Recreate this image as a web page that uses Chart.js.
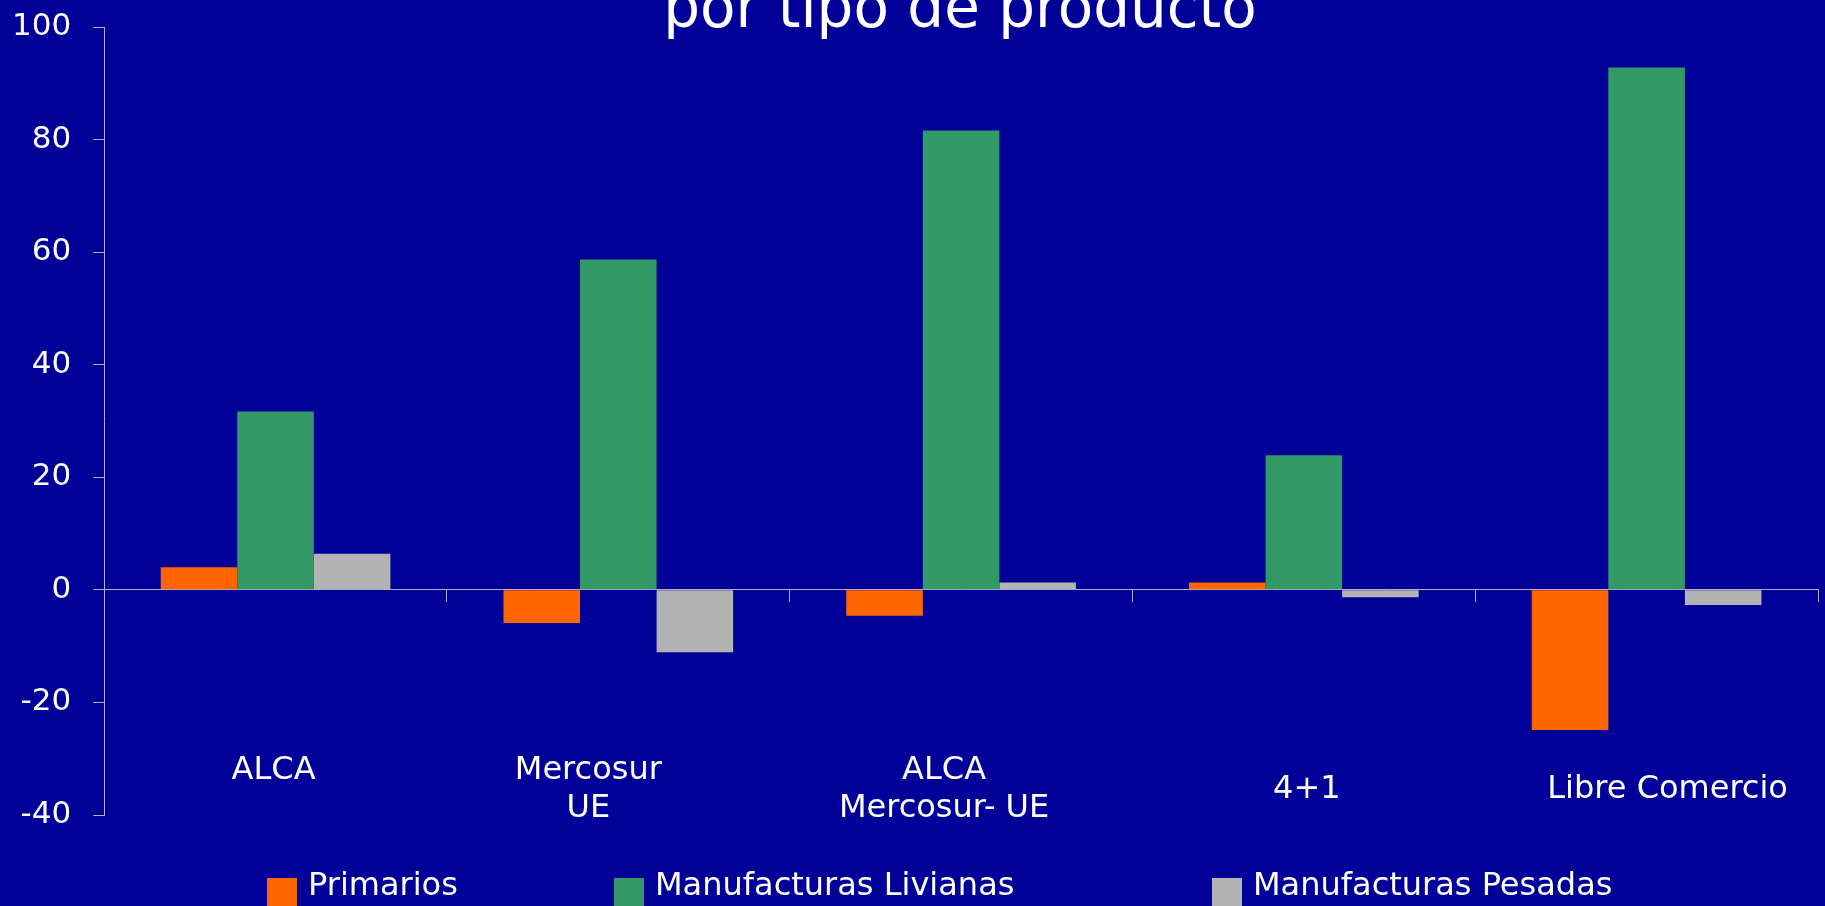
<!DOCTYPE html>
<html>
<head>
<meta charset="utf-8">
<script src="https://cdn.jsdelivr.net/npm/chart.js@4"></script>
<style>
  html, body { margin: 0; padding: 0; background: #000099; overflow: hidden; }
  #wrap { position: relative; width: 1825px; height: 906px; overflow: hidden; }
  #chartBox { position: absolute; left: 0; top: 0; width: 1825px; height: 906px; }
  #title { position: absolute; left: 460px; width: 1000px; top: -22px; text-align: center;
           font-family: "DejaVu Sans", Verdana, sans-serif; font-size: 58px; line-height: 58px; color: #ffffff; white-space: nowrap; }
  .lg-box { position: absolute; top: 878px; width: 30px; height: 30px; }
  .lg-text { position: absolute; top: 868px; font-family: "DejaVu Sans", Verdana, sans-serif; font-size: 32px; line-height: 32px; color: #ffffff; white-space: nowrap; }
</style>
</head>
<body>
<div id="wrap">
  <div id="title">por tipo de producto</div>
  <div id="chartBox"><canvas id="c"></canvas></div>
  <div id="legend"></div>
</div>
<script>
// ---- data ----
const categories = [['ALCA', ''], ['Mercosur', 'UE'], ['ALCA', 'Mercosur- UE'], '4+1', 'Libre Comercio'];
const seriesNames = ['Primarios', 'Manufacturas Livianas', 'Manufacturas Pesadas'];
const primarios = [4.0, -5.9, -4.6, 1.3, -24.9];
const livianas  = [31.7, 58.7, 81.6, 23.9, 92.8];
const pesadas   = [6.4, -11.1, 1.3, -1.3, -2.7];
const yMin = -40, yMax = 100, yStep = 20;

// ---- style ----
const colors = ['#FF6600', '#339966', '#B3B3B3'];
const axisColor = '#B0B0C8';
const fontFamily = '"DejaVu Sans", Verdana, sans-serif';
const labelNudgeX = [-2, -30, -17, 3, 21];
const legendLeft = [267, 614, 1212];
const legendTextGap = 41;
const yLabelGap = 22;

const nudgePlugin = {
  id: 'labelNudge',
  beforeDraw(chart) {
    const sc = chart.scales.x;
    const items = sc.getLabelItems(chart.chartArea);
    items.forEach((it, i) => {
      if (!it._nudged) {
        it.options.translation[0] += labelNudgeX[i] || 0;
        it._nudged = true;
      }
    });
  }
};

const chart = new Chart(document.getElementById('c'), {
  type: 'bar',
  data: {
    labels: categories,
    datasets: [
      { label: seriesNames[0], data: primarios, backgroundColor: colors[0] },
      { label: seriesNames[1], data: livianas,  backgroundColor: colors[1] },
      { label: seriesNames[2], data: pesadas,   backgroundColor: colors[2] }
    ]
  },
  options: {
    responsive: true,
    maintainAspectRatio: false,
    animation: false,
    events: [],
    layout: { padding: { left: 12, right: 7, top: 27, bottom: 91 } },
    datasets: { bar: { categoryPercentage: 0.67, barPercentage: 1.0, borderWidth: 0 } },
    plugins: { legend: { display: false }, title: { display: false }, tooltip: { enabled: false } },
    scales: {
      x: {
        type: 'category',
        position: { y: -30.7 },
        offset: true,
        grid: { display: false, offset: true },
        border: { display: false },
        ticks: { color: '#ffffff', font: { family: fontFamily, size: 32 }, padding: 0, crossAlign: 'center', maxRotation: 0, autoSkip: false }
      },
      x0: {
        type: 'category',
        position: { y: 0 },
        offset: true,
        grid: { display: true, offset: true, drawOnChartArea: false, drawTicks: true, tickLength: 12, color: axisColor, lineWidth: 1 },
        border: { display: true, color: axisColor, width: 1 },
        ticks: { display: false }
      },
      y: {
        type: 'linear',
        position: 'left',
        min: yMin, max: yMax,
        grid: { drawOnChartArea: false, drawTicks: true, tickLength: 11, color: axisColor },
        border: { display: true, color: axisColor, width: 1 },
        ticks: { stepSize: yStep, color: '#ffffff', font: { family: fontFamily, size: 31 }, padding: yLabelGap },
        afterFit(s) {
          // Chart.js reserves the tick padding twice; keep it once and do not let it pad the top/bottom
          s.width -= yLabelGap;
          s.paddingTop -= yLabelGap;
          s.paddingBottom -= yLabelGap;
        }
      }
    }
  },
  plugins: [nudgePlugin]
});

// HTML legend built from datasets
const lg = document.getElementById('legend');
chart.data.datasets.forEach((ds, i) => {
  const b = document.createElement('div');
  b.className = 'lg-box';
  b.style.left = legendLeft[i] + 'px';
  b.style.background = ds.backgroundColor;
  lg.appendChild(b);
  const t = document.createElement('div');
  t.className = 'lg-text';
  t.style.left = (legendLeft[i] + legendTextGap) + 'px';
  t.textContent = ds.label;
  lg.appendChild(t);
});
</script>
</body>
</html>
